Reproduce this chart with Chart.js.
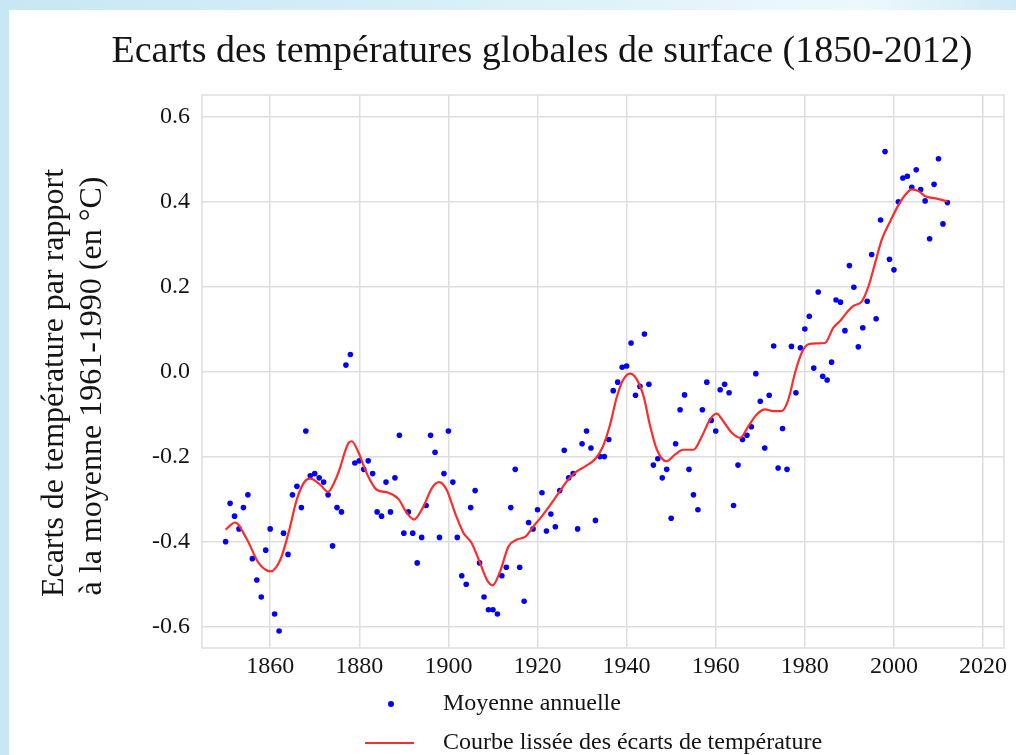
<!DOCTYPE html>
<html lang="fr">
<head>
<meta charset="utf-8">
<script src="https://cdn.jsdelivr.net/npm/chart.js@4.4.1/dist/chart.umd.min.js"></script>
<style>
  html, body { margin: 0; padding: 0; }
  body {
    width: 1016px; height: 755px; overflow: hidden; position: relative;
    background: linear-gradient(90deg, #c8e7f4 0%, #d6eef8 40%, #eef8fc 85%, #cfeaf6 100%);
  }
  #wrap { position: absolute; left: 9px; top: 10px; width: 1007px; height: 745px; background: #fff; }
</style>
</head>
<body>
<div id="wrap"><canvas id="myPlot" width="1007" height="745"></canvas></div>
<script>
const chartTitle = 'Ecarts des températures globales de surface (1850-2012)';
const yTitle = ['Ecarts de température par rapport', 'à la moyenne 1961-1990 (en °C)'];
const labelDots = 'Moyenne annuelle';
const labelLine = 'Courbe lissée des écarts de température';

const firstYear = 1850;
// moyenne annuelle 1850 -> 2012
const annualValues = [
  -0.40, -0.31, -0.34, -0.37, -0.32, -0.29, -0.44, -0.49, -0.53, -0.42,
  -0.37, -0.57, -0.61, -0.38, -0.43, -0.29, -0.27, -0.32, -0.14, -0.245,
  -0.24, -0.25, -0.26, -0.29, -0.41, -0.32, -0.33, 0.015, 0.04, -0.215,
  -0.21, -0.23, -0.21, -0.24, -0.33, -0.34, -0.26, -0.33, -0.25, -0.15,
  -0.38, -0.33, -0.38, -0.45, -0.39, -0.315, -0.15, -0.19, -0.39, -0.24,
  -0.14, -0.26, -0.39, -0.48, -0.50, -0.32, -0.28, -0.45, -0.53, -0.56,
  -0.56, -0.57, -0.48, -0.46, -0.32, -0.23, -0.46, -0.54, -0.355, -0.37,
  -0.325, -0.285, -0.375, -0.335, -0.365, -0.28, -0.185, -0.25, -0.24, -0.37,
  -0.17, -0.14, -0.18, -0.35, -0.20, -0.20, -0.16, -0.045, -0.025, 0.01,
  0.013, 0.067, -0.056, -0.035, 0.088, -0.03, -0.22, -0.205, -0.25, -0.23,
  -0.345, -0.17, -0.09, -0.055, -0.23, -0.29, -0.325, -0.09, -0.025, -0.115,
  -0.14, -0.043, -0.03, -0.05, -0.315, -0.22, -0.16, -0.15, -0.13, -0.005,
  -0.07, -0.18, -0.056, 0.06, -0.227, -0.134, -0.23, 0.059, -0.05, 0.056,
  0.10, 0.13, 0.008, 0.187, -0.011, -0.02, 0.022, 0.168, 0.163, 0.096,
  0.249, 0.198, 0.058, 0.103, 0.165, 0.275, 0.124, 0.356, 0.517, 0.264,
  0.239, 0.399, 0.455, 0.459, 0.433, 0.474, 0.428, 0.401, 0.312, 0.44,
  0.50, 0.347, 0.397
];

// courbe lissee
const smoothYears = [
  1850, 1852.1, 1854.8, 1857.4, 1860.1, 1862.3, 1864.1, 1866, 1867.8, 1869,
  1871.2, 1873, 1874.5, 1875.7, 1876.8, 1877.6, 1878.3, 1879.8, 1881.7, 1883.9,
  1886.5, 1888.8, 1890.7, 1892.3, 1894.4, 1896.3, 1897.9, 1899.6, 1901.5, 1903.4,
  1905.2, 1907.1, 1908.6, 1909.9, 1911.6, 1913.5, 1915.4, 1917.2, 1919.1, 1921,
  1923.2, 1925.1, 1926.9, 1928.8, 1930.7, 1933, 1934.6, 1936.2, 1937.8, 1939.2,
  1940.8, 1942.3, 1943.8, 1945.3, 1946.8, 1948.9, 1950.9, 1952.7, 1955, 1956.9,
  1958.7, 1960.2, 1961.7, 1963.6, 1965.5, 1967.3, 1969.2, 1971.1, 1972.9, 1974.8,
  1976.3, 1977.8, 1979.3, 1980.8, 1982.7, 1984.5, 1986.4, 1988, 1989.2, 1990.9,
  1992.8, 1994.3, 1995.8, 1997.3, 1999.2, 2001.1, 2002.6, 2004, 2005.5, 2007,
  2009.3, 2012
];
const smoothValues = [
  -0.372, -0.355, -0.395, -0.45, -0.47, -0.442, -0.38, -0.30, -0.258, -0.252,
  -0.266, -0.283, -0.258, -0.226, -0.188, -0.168, -0.164, -0.19, -0.24, -0.278,
  -0.285, -0.30, -0.333, -0.348, -0.317, -0.274, -0.26, -0.278, -0.333, -0.38,
  -0.403, -0.45, -0.489, -0.503, -0.47, -0.411, -0.395, -0.389, -0.364, -0.34,
  -0.309, -0.28, -0.254, -0.235, -0.223, -0.205, -0.178, -0.128, -0.06, -0.02,
  -0.005, -0.019, -0.058, -0.129, -0.184, -0.211, -0.195, -0.184, -0.184, -0.152,
  -0.113, -0.099, -0.117, -0.144, -0.156, -0.129, -0.101, -0.089, -0.093, -0.093,
  -0.066, -0.003, 0.044, 0.064, 0.066, 0.067, 0.103, 0.12, 0.136, 0.154,
  0.165, 0.201, 0.256, 0.311, 0.354, 0.393, 0.416, 0.428, 0.424, 0.412,
  0.407, 0.40
];

const xTicks = [1860, 1880, 1900, 1920, 1940, 1960, 1980, 2000, 2020];
const yTicks = [-0.6, -0.4, -0.2, 0.0, 0.2, 0.4, 0.6];

const fontFamily = '"Liberation Serif", "DejaVu Serif", serif';
const textColor = '#141414';
const gridColor = '#dedede';
const dotColor = '#0000ff';
const lineColor = '#ff2a2a';

// titre, titre de l'axe y, cadre et legende dessines a la main
const decorations = {
    id: 'decorations',
    beforeDatasetsDraw(chart) {
        const {ctx, chartArea} = chart;
        ctx.save();
        ctx.strokeStyle = gridColor;
        ctx.lineWidth = 1.5;
        ctx.strokeRect(chartArea.left, chartArea.top, chartArea.right - chartArea.left, chartArea.bottom - chartArea.top);
        ctx.restore();
    },
    afterDraw(chart) {
        const ctx = chart.ctx;
        ctx.save();
        ctx.fillStyle = textColor;
        ctx.textBaseline = 'middle';
        ctx.textAlign = 'center';
        ctx.font = '38px ' + fontFamily;
        ctx.fillText(chartTitle, 533, 42);

        // titre vertical sur deux lignes
        ctx.save();
        ctx.font = '32px ' + fontFamily;
        ctx.translate(46, 373);
        ctx.rotate(-Math.PI / 2);
        ctx.fillText(yTitle[0], 0, 0);
        ctx.fillText(yTitle[1], -3, 38);
        ctx.restore();

        ctx.textAlign = 'left';
        ctx.font = '24px ' + fontFamily;
        ctx.fillText(chart.data.datasets[0].label, 434, 694);
        ctx.fillText(chart.data.datasets[1].label, 434, 733);

        ctx.fillStyle = dotColor;
        ctx.beginPath();
        ctx.arc(382, 694, 3, 0, 2 * Math.PI);
        ctx.fill();

        ctx.strokeStyle = lineColor;
        ctx.lineWidth = 2.2;
        ctx.beginPath();
        ctx.moveTo(356, 733);
        ctx.lineTo(405, 733);
        ctx.stroke();
        ctx.restore();
    }
};

let annualPoints = annualValues.map((v, i) => ({x: firstYear + i, y: v}));
let smoothPoints = smoothYears.map((yr, i) => ({x: yr, y: smoothValues[i]}));

new Chart('myPlot', {
    type: 'scatter',
    data: {
        datasets: [
            {
                label: labelDots,
                data: annualPoints,
                backgroundColor: dotColor,
                borderWidth: 0,
                pointRadius: 2.8,
                order: 1
            },
            {
                label: labelLine,
                data: smoothPoints,
                showLine: true,
                borderColor: lineColor,
                borderWidth: 2.2,
                pointRadius: 0,
                cubicInterpolationMode: 'monotone',
                fill: false,
                order: 0
            }
        ]
    },
    plugins: [decorations],
    options: {
        responsive: false,
        animation: false,
        layout: { padding: { top: 85, right: 12, bottom: 67, left: 0 } },
        plugins: {
            legend: { display: false },
            title: { display: false },
            tooltip: { enabled: false }
        },
        scales: {
            x: {
                type: 'linear',
                min: 1844.7,
                max: 2024.7,
                afterBuildTicks: axis => { axis.ticks = xTicks.map(v => ({value: v})); },
                afterFit: axis => { axis.height = 40; },
                grid: { color: gridColor, lineWidth: 1.5, drawTicks: false },
                border: { display: false },
                ticks: {
                    padding: 4,
                    color: textColor,
                    maxRotation: 0,
                    autoSkip: false,
                    font: { family: fontFamily, size: 24 },
                    callback: v => String(v)
                }
            },
            y: {
                min: -0.65,
                max: 0.65,
                afterBuildTicks: axis => { axis.ticks = yTicks.map(v => ({value: v})); },
                afterFit: axis => { axis.width = 193; },
                grid: { color: gridColor, lineWidth: 1.5, drawTicks: false },
                border: { display: false },
                ticks: {
                    padding: 12,
                    color: textColor,
                    font: { family: fontFamily, size: 24 },
                    callback: v => v.toFixed(1)
                }
            }
        }
    }
});
</script>
</body>
</html>
